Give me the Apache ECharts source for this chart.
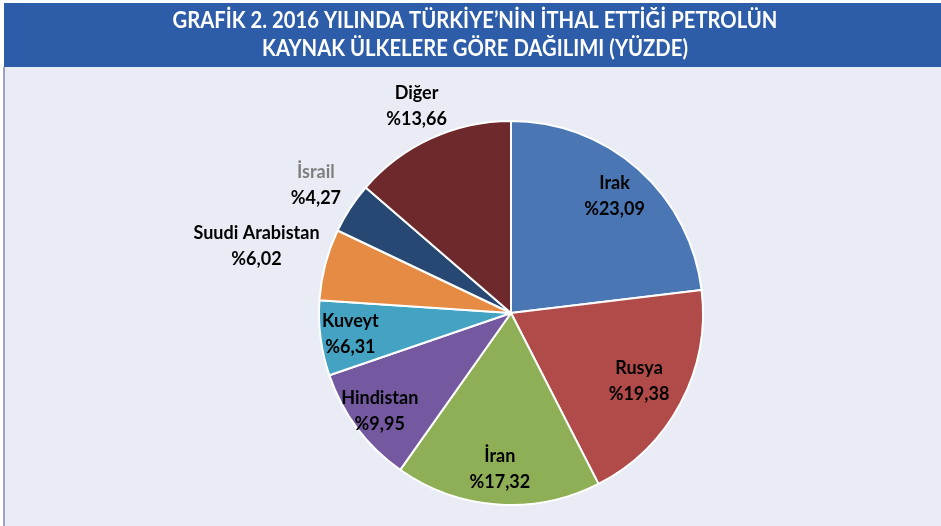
<!DOCTYPE html>
<html>
<head>
<meta charset="utf-8">
<script src="https://cdn.jsdelivr.net/npm/echarts@6/dist/echarts.min.js"></script>
<style>
  html, body { margin: 0; padding: 0; background: #ffffff; }
  #chart { width: 941px; height: 526px; }
</style>
</head>
<body>
<div id="chart"></div>
<script>
// Kaynak ülkeler ve paylar (yüzde)
const countries = ['Irak', 'Rusya', 'İran', 'Hindistan', 'Kuveyt', 'Suudi Arabistan', 'İsrail', 'Diğer'];
const shares = [23.09, 19.38, 17.32, 9.95, 6.31, 6.02, 4.27, 13.66];
const sliceColors = ['#4A77B4', '#B14B49', '#8FAF56', '#7459A0', '#44A3C2', '#E68B43', '#264872', '#6D292B'];
const nameColors = ['#000', '#000', '#000', '#000', '#000', '#000', '#7F7F7F', '#000'];
// radial distance of each label centre from the pie centre (px)
const labelRadius = [156, 145, 157, 164, 162, 263, 233, 227];

const titleLines = ['GRAFİK 2. 2016 YILINDA TÜRKİYE’NİN İTHAL ETTİĞİ PETROLÜN', 'KAYNAK ÜLKELERE GÖRE DAĞILIMI (YÜZDE)'];

const fmt = v => '%' + v.toFixed(2).replace('.', ',');

const chart = echarts.init(document.getElementById('chart'), null, { renderer: 'canvas' });

const cx = 511, cy = 313, R = 192;
const total = shares.reduce((a, b) => a + b, 0);
const midAngles = [];
let acc = 0;
shares.forEach(v => { midAngles.push((acc + v / 2) / total * 2 * Math.PI); acc += v; });

const labelFont = { fontFamily: 'Lato, "Open Sans", sans-serif', fontWeight: 'bold', fontSize: 18, lineHeight: 26, align: 'center' };

const option = {
  backgroundColor: '#E9ECF5',
  animation: false,
  graphic: [
    { type: 'rect', shape: { x: 0, y: 0, width: 941, height: 3 }, style: { fill: '#ffffff' }, z: 0 },
    { type: 'rect', shape: { x: 0, y: 0, width: 4, height: 68 }, style: { fill: '#ffffff' }, z: 0 },
    { type: 'rect', shape: { x: 4, y: 3, width: 937, height: 64 }, style: { fill: '#2D5CA8' }, z: 0 },
    { type: 'rect', shape: { x: 0, y: 67, width: 3, height: 459 }, style: { fill: '#ffffff' }, z: 0 },
    { type: 'rect', shape: { x: 3, y: 67, width: 2, height: 459 }, style: { fill: '#9EA3C2' }, z: 0 },
    {
      type: 'text', x: 475, y: 7, scaleX: 0.92, z: 5,
      style: {
        text: titleLines.join('\n'),
        fill: '#ffffff',
        font: 'bold 22px Lato, "Open Sans", sans-serif',
        align: 'center',
        verticalAlign: 'top',
        lineHeight: 28
      }
    }
  ],
  series: [{
    type: 'pie',
    center: [cx, cy],
    radius: [0, R],
    startAngle: 90,
    clockwise: true,
    silent: true,
    itemStyle: { borderColor: '#ffffff', borderWidth: 2 },
    label: {
      show: true,
      position: 'inside',
      formatter: p => '{n' + p.dataIndex + '|' + p.name + '}\n{v|' + fmt(p.value) + '}',
      rich: Object.assign({ v: Object.assign({ color: '#000' }, labelFont) },
        Object.fromEntries(countries.map((c, i) => ['n' + i, Object.assign({ color: nameColors[i] }, labelFont)])))
    },
    labelLine: { show: false },
    labelLayout: p => {
      const a = midAngles[p.dataIndex];
      const d = labelRadius[p.dataIndex];
      return { x: cx + d * Math.sin(a), y: cy - d * Math.cos(a), align: 'center', verticalAlign: 'middle' };
    },
    data: countries.map((c, i) => ({ name: c, value: shares[i], itemStyle: { color: sliceColors[i] } }))
  }]
};

chart.setOption(option);
</script>
</body>
</html>
